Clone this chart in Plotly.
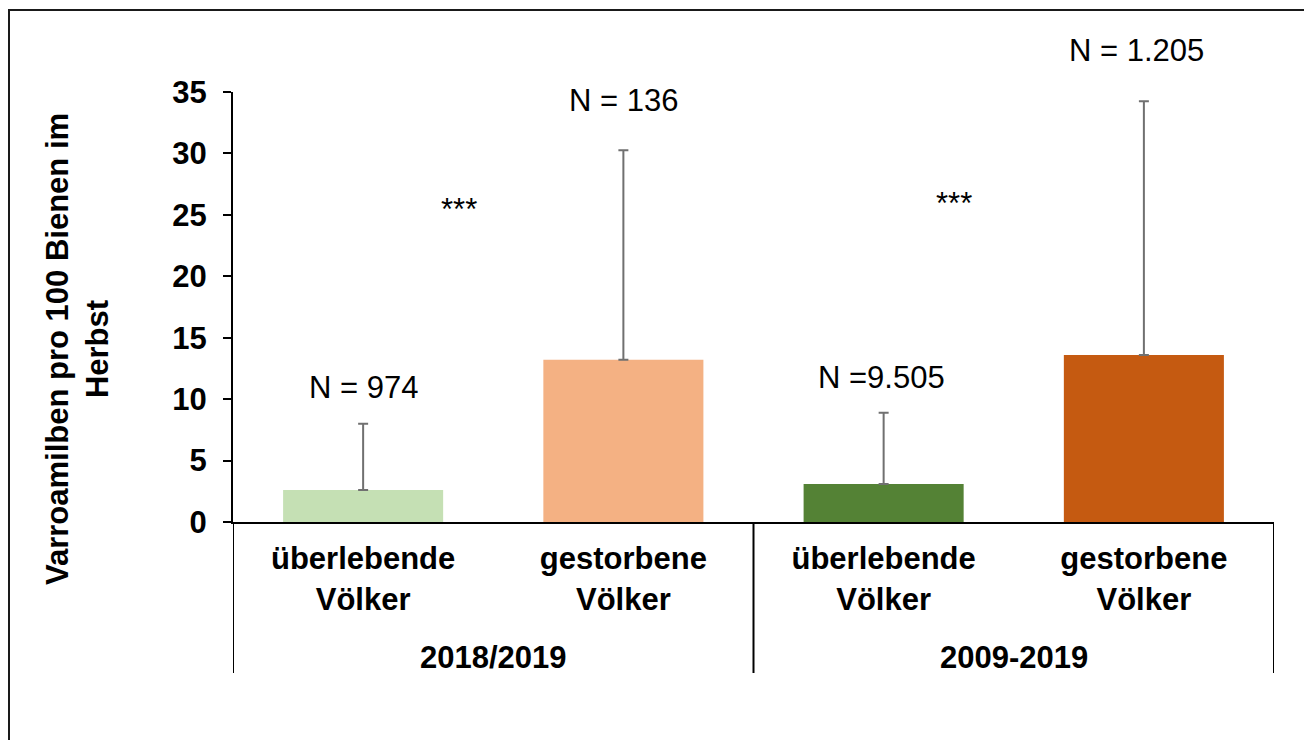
"""Varroamilben im Herbst: überlebende vs. gestorbene Völker (2018/2019 und 2009-2019)."""
import plotly.graph_objects as go

# --- data ---
periods = ["2018/2019", "2018/2019", "2009-2019", "2009-2019"]
groups = ["überlebende<br>Völker", "gestorbene<br>Völker",
          "überlebende<br>Völker", "gestorbene<br>Völker"]
mites_mean = [2.6, 13.2, 3.1, 13.6]
mites_sd = [5.4, 17.05, 5.8, 20.65]
bar_colors = ["#C5E0B4", "#F4B183", "#548235", "#C55A11"]

n_labels = ["N = 974", "N = 136", "N =9.505", "N = 1.205"]
n_label_y = [10.95, 34.3, 11.8, 38.4]
n_label_pos = [0.0, 1.0, 1.99, 2.97]      # category index

sig_labels = ["***", "***"]
sig_y = [25.4, 25.9]
sig_pos = [0.37, 2.27]

period_labels = ["2018/2019", "2009-2019"]
period_pos = [0.5, 2.5]
divider_pos = [-0.5, 1.5, 3.5]

Y_MAX = 35

# unique category keys, shown with the group text only
cat_keys = [f"{p} | {g}" for p, g in zip(periods, groups)]

FONT = "Liberation Sans, Arial, sans-serif"
FS = 31

# the page body adds an 8px margin; target pixels are screen pixels
OFF = 8
W, H = 1312 - OFF, 740 - OFF
L, R, T, B = 233 - OFF, 1274 - OFF, 92 - OFF, 522 - OFF


def px_x(p):
    return (p - OFF - L) / (R - L)


def px_y(p):
    return (B - (p - OFF)) / (B - T)


def cat_x(i):
    return (i + 0.5) / len(groups)


fig = go.Figure()
fig.add_trace(go.Bar(
    x=cat_keys,
    y=mites_mean,
    marker=dict(color=bar_colors, line=dict(width=0)),
    width=0.615,
    error_y=dict(type="data", symmetric=False, array=mites_sd,
                 arrayminus=[0] * len(mites_sd),
                 color="#707070", thickness=2, width=5),
    showlegend=False,
))

annotations = []
# N labels may sit above the axis range, so place them in paper units
for txt, xi, yv in zip(n_labels, n_label_pos, n_label_y):
    annotations.append(dict(
        x=cat_x(xi), xref="paper", y=yv / Y_MAX, yref="paper", text=txt,
        xanchor="center", yanchor="middle", showarrow=False,
        font=dict(family=FONT, size=FS, color="black"),
    ))
for txt, xi, yv in zip(sig_labels, sig_pos, sig_y):
    annotations.append(dict(
        x=cat_x(xi), xref="paper", y=yv / Y_MAX, yref="paper", text=txt,
        xanchor="center", yanchor="middle", showarrow=False,
        font=dict(family=FONT, size=FS, color="black"),
    ))
for txt, xi in zip(period_labels, period_pos):
    annotations.append(dict(
        x=cat_x(xi), xref="paper", y=px_y(657), yref="paper", text=txt,
        xanchor="center", yanchor="middle", showarrow=False,
        font=dict(family=FONT, size=FS, color="black", weight="bold"),
    ))

# y-axis title, placed like the Excel original
annotations.append(dict(
    x=px_x(77), xref="paper", y=px_y(349), yref="paper",
    text="Varroamilben pro 100 Bienen im<br>Herbst",
    textangle=-90, xanchor="center", yanchor="middle", showarrow=False,
    font=dict(family=FONT, size=FS, color="black", weight="bold"),
))

shapes = []
# group dividers of the two-level category axis
for xd in divider_pos:
    shapes.append(dict(
        type="line", xref="x", yref="paper",
        x0=xd, x1=xd, y0=px_y(673), y1=0,
        line=dict(color="black", width=2),
    ))
# outer chart border
shapes.append(dict(
    type="rect", xref="paper", yref="paper",
    x0=px_x(9), x1=px_x(1311), y0=px_y(760), y1=px_y(10),
    line=dict(color="#1a1a1a", width=2), fillcolor="rgba(0,0,0,0)",
))

fig.update_layout(
    width=W, height=H,
    margin=dict(l=L, r=W - R, t=T, b=H - B, autoexpand=False),
    paper_bgcolor="white", plot_bgcolor="white",
    font=dict(family=FONT, size=FS, color="black"),
    annotations=annotations,
    shapes=shapes,
)
fig.update_xaxes(
    type="category", range=[-0.5, 3.5],
    tickvals=cat_keys, ticktext=groups,
    showline=True, linecolor="black", linewidth=2,
    ticks="", showgrid=False, ticklabelstandoff=8,
    tickfont=dict(family=FONT, size=FS, color="black", weight="bold"),
)
fig.update_yaxes(
    range=[0, Y_MAX], dtick=5, tick0=0,
    showline=True, linecolor="black", linewidth=2,
    ticks="outside", ticklen=8, tickwidth=2, tickcolor="black",
    ticklabelstandoff=10,
    showgrid=False, zeroline=False,
    tickfont=dict(family=FONT, size=FS, color="black", weight="bold"),
)

fig.write_html("out.html")
